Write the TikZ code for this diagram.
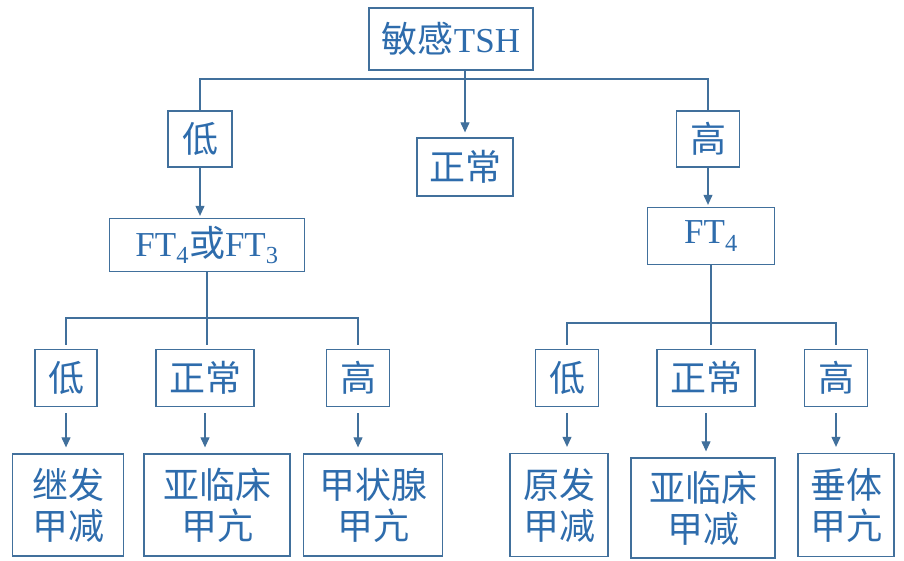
\documentclass[tikz,border=0pt]{standalone}
\usepackage{fontspec}
\setmainfont{Liberation Serif}
\newfontfamily\cjk{Noto Sans CJK SC}
\usepackage{tikz}
\usetikzlibrary{arrows.meta}
\definecolor{boxblue}{RGB}{65,112,156}
\definecolor{txtblue}{RGB}{46,108,172}
\newcommand{\lat}[1]{{\rmfamily\fontsize{35}{42}\selectfont #1}}

\tikzset{
	box/.style={draw=boxblue, line width=1.3pt, text=txtblue, inner sep=0pt, align=center,
		font=\cjk\fontsize{36}{41}\selectfont},
	link/.style={draw=boxblue, line width=1.1pt}
}

\begin{document}
\begin{tikzpicture}[x=1pt, y=-1pt, >={Triangle[length=10pt,width=9pt]}]
		\useasboundingbox (0,0) rectangle (904,560);
		% first level: TSH
		\node[box, minimum width=164pt, minimum height=62pt] (tsh) at (451,39) {敏感\lat{TSH}};
		\node[box, minimum width=64pt, minimum height=56pt] (lo) at (200,139) {低};
		\node[box, minimum width=96pt, minimum height=58pt] (nm) at (465,167) {正常};
		\node[box, minimum width=63pt, minimum height=56pt] (hi) at (708,139) {高};
		\coordinate (bar) at (465,79);
		\draw[link] (lo.north) |- (bar) -| (hi.north);
		\draw[link, ->] (nm.north |- tsh.south) -- ([yshift=5pt]nm.north);
		% second level: free T4 / T3
		\node[box, minimum width=195pt, minimum height=53pt] (ftb) at (207,245)
			{\lat{FT\textsubscript{4}}或\lat{FT\textsubscript{3}}};
		\node[box, minimum width=127pt, minimum height=57pt] (ftr) at (711,236)
			{\lat{FT\textsubscript{4}}};
		\draw[link, ->] (lo.south) -- ([yshift=2pt]lo.south |- ftb.north);
		\draw[link, ->] (hi.south) -- ([yshift=2pt]hi.south |- ftr.north);
		% third level, left branch
		\node[box, minimum width=62pt, minimum height=57pt] (llo) at (66,378) {低};
		\node[box, minimum width=98pt, minimum height=57pt] (lnm) at (205,378) {正常};
		\node[box, minimum width=63pt, minimum height=57pt] (lhi) at (358,378) {高};
		\coordinate (lbar) at (207,318);
		\draw[link] (ftb.south) -- (lbar);
		\draw[link] ([yshift=4pt]llo.north) |- (lbar) -| ([yshift=4pt]lhi.north);
		\draw[link] (lbar) -- ([yshift=4pt]lbar |- lnm.north);
		% third level, right branch
		\node[box, minimum width=63pt, minimum height=57pt] (rlo) at (567,378) {低};
		\node[box, minimum width=98pt, minimum height=57pt] (rnm) at (706,378) {正常};
		\node[box, minimum width=63pt, minimum height=57pt] (rhi) at (836,378) {高};
		\coordinate (rbar) at (711,323);
		\draw[link] (ftr.south) -- (rbar);
		\draw[link] ([yshift=4pt]rlo.north) |- (rbar) -| ([yshift=4pt]rhi.north);
		\draw[link] (rbar) -- ([yshift=4pt]rbar |- rnm.north);
		% diagnoses
		\node[box, minimum width=111pt, minimum height=102pt] (lb1) at (68,505) {继发\\甲减};
		\node[box, minimum width=146pt, minimum height=102pt] (lb2) at (217,505) {亚临床\\甲亢};
		\node[box, minimum width=139pt, minimum height=102pt] (lb3) at (373,505) {甲状腺\\甲亢};
		\node[box, minimum width=98pt, minimum height=103pt] (rb1) at (559,505) {原发\\甲减};
		\node[box, minimum width=144pt, minimum height=100pt] (rb2) at (703,508) {亚临床\\甲减};
		\node[box, minimum width=96pt, minimum height=103pt] (rb3) at (846,505) {垂体\\甲亢};
		\foreach \a/\b in {llo/lb1, lnm/lb2, lhi/lb3, rlo/rb1, rnm/rb2, rhi/rb3}
			\draw[link, ->] ([yshift=-6pt]\a.south) -- ([yshift=6pt]\a.south |- \b.north);
	\end{tikzpicture}
\end{document}
